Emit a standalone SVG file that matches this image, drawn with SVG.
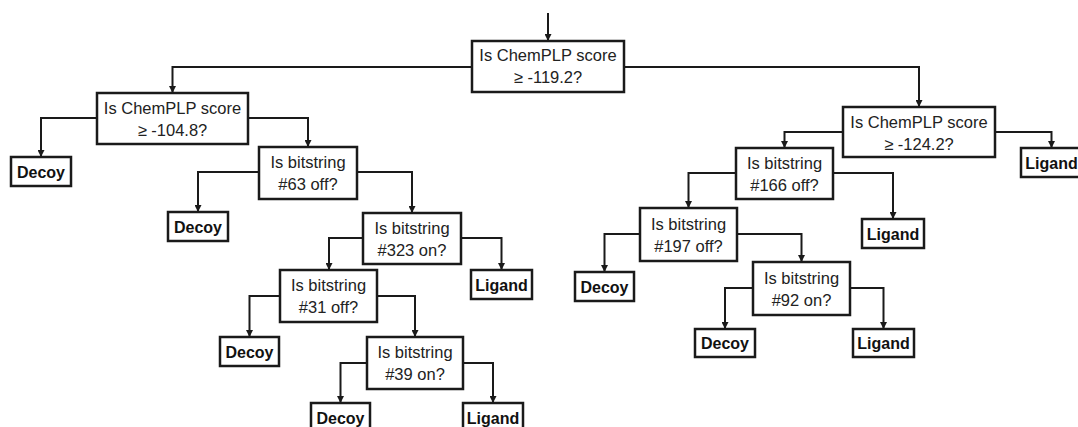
<svg xmlns="http://www.w3.org/2000/svg" width="1078" height="427" viewBox="0 0 1078 427">
<defs>
<style>
.box{fill:#fff;stroke:#1a1a1a;stroke-width:2.5}
.q{font-family:"Liberation Sans",Arial,sans-serif;font-size:16.5px;fill:#222;text-anchor:middle}
.l{font-family:"Liberation Sans",Arial,sans-serif;font-size:16px;font-weight:bold;fill:#111;text-anchor:middle}
.c{fill:none;stroke:#1a1a1a;stroke-width:2;marker-end:url(#ah)}
</style>
<marker id="ah" viewBox="0 0 8 8" refX="8" refY="4" markerWidth="7" markerHeight="7" markerUnits="userSpaceOnUse" orient="auto">
<path d="M0,0 L8,4 L0,8 z" fill="#1a1a1a"/>
</marker>
</defs>
<rect width="1078" height="427" fill="#fff"/>
<g id="connectors">
<path class="c" d="M548,13 V41"/>
<path class="c" d="M472,67 H172.5 V93"/>
<path class="c" d="M624,67 H919 V107"/>
<path class="c" d="M97,118 H41 V157"/>
<path class="c" d="M248,118 H308 V147"/>
<path class="c" d="M259,172 H198 V212"/>
<path class="c" d="M357,172 H412 V213"/>
<path class="c" d="M363,238 H329 V270"/>
<path class="c" d="M461,238 H501.5 V270"/>
<path class="c" d="M280,296 H249.5 V337"/>
<path class="c" d="M377,296 H415 V337"/>
<path class="c" d="M367,363 H340.5 V403"/>
<path class="c" d="M463,363 H493 V403"/>
<path class="c" d="M843,132 H784.5 V148"/>
<path class="c" d="M995,132 H1051.5 V148"/>
<path class="c" d="M736,173 H688.5 V208"/>
<path class="c" d="M833,173 H893 V219"/>
<path class="c" d="M640,234 H604.5 V272"/>
<path class="c" d="M737,234 H801.5 V262"/>
<path class="c" d="M753,288 H725 V329"/>
<path class="c" d="M850,288 H883.5 V329"/>
</g>
<g id="root"><rect class="box" x="472" y="41" width="152" height="51"/><text class="q" x="548" y="61">Is ChemPLP score</text><text class="q" x="548" y="83">≥ -119.2?</text></g>
<g id="nodeA"><rect class="box" x="97" y="93" width="151" height="51"/><text class="q" x="172.5" y="114">Is ChemPLP score</text><text class="q" x="172.5" y="136">≥ -104.8?</text></g>
<g id="nodeR"><rect class="box" x="843" y="107" width="152" height="50"/><text class="q" x="919" y="128">Is ChemPLP score</text><text class="q" x="919" y="150">≥ -124.2?</text></g>
<g id="nodeB"><rect class="box" x="259" y="147" width="98" height="52"/><text class="q" x="308" y="168">Is bitstring</text><text class="q" x="308" y="190">#63 off?</text></g>
<g id="nodeC"><rect class="box" x="363" y="213" width="98" height="51"/><text class="q" x="412" y="234">Is bitstring</text><text class="q" x="412" y="256">#323 on?</text></g>
<g id="nodeD"><rect class="box" x="280" y="270" width="97" height="52"/><text class="q" x="328.5" y="291">Is bitstring</text><text class="q" x="328.5" y="313">#31 off?</text></g>
<g id="nodeE"><rect class="box" x="367" y="337" width="96" height="52"/><text class="q" x="415" y="358">Is bitstring</text><text class="q" x="415" y="380">#39 on?</text></g>
<g id="nodeF"><rect class="box" x="736" y="148" width="97" height="51"/><text class="q" x="784.5" y="169">Is bitstring</text><text class="q" x="784.5" y="191">#166 off?</text></g>
<g id="nodeG"><rect class="box" x="640" y="208" width="97" height="53"/><text class="q" x="688.5" y="230">Is bitstring</text><text class="q" x="688.5" y="252">#197 off?</text></g>
<g id="nodeH"><rect class="box" x="753" y="262" width="97" height="53"/><text class="q" x="801.5" y="284">Is bitstring</text><text class="q" x="801.5" y="306">#92 on?</text></g>
<g id="decoy1"><rect class="box" x="11" y="157" width="60" height="29"/><text class="l" x="41" y="178">Decoy</text></g>
<g id="decoy2"><rect class="box" x="168" y="212" width="60" height="29"/><text class="l" x="198" y="233">Decoy</text></g>
<g id="decoy3"><rect class="box" x="220" y="337" width="59" height="29"/><text class="l" x="249.5" y="358">Decoy</text></g>
<g id="decoy4"><rect class="box" x="311" y="403" width="59" height="29"/><text class="l" x="340.5" y="424">Decoy</text></g>
<g id="ligand1"><rect class="box" x="471" y="270" width="61" height="29"/><text class="l" x="501.5" y="291">Ligand</text></g>
<g id="ligand2"><rect class="box" x="463" y="403" width="60" height="29"/><text class="l" x="493" y="424">Ligand</text></g>
<g id="ligandR"><rect class="box" x="1021" y="148" width="61" height="29"/><text class="l" x="1051.5" y="169">Ligand</text></g>
<g id="ligand3"><rect class="box" x="862" y="219" width="62" height="29"/><text class="l" x="893" y="240">Ligand</text></g>
<g id="decoy5"><rect class="box" x="575" y="272" width="59" height="29"/><text class="l" x="604.5" y="293">Decoy</text></g>
<g id="decoy6"><rect class="box" x="695" y="329" width="60" height="28"/><text class="l" x="725" y="349">Decoy</text></g>
<g id="ligand4"><rect class="box" x="853" y="329" width="61" height="28"/><text class="l" x="883.5" y="349">Ligand</text></g>
</svg>
